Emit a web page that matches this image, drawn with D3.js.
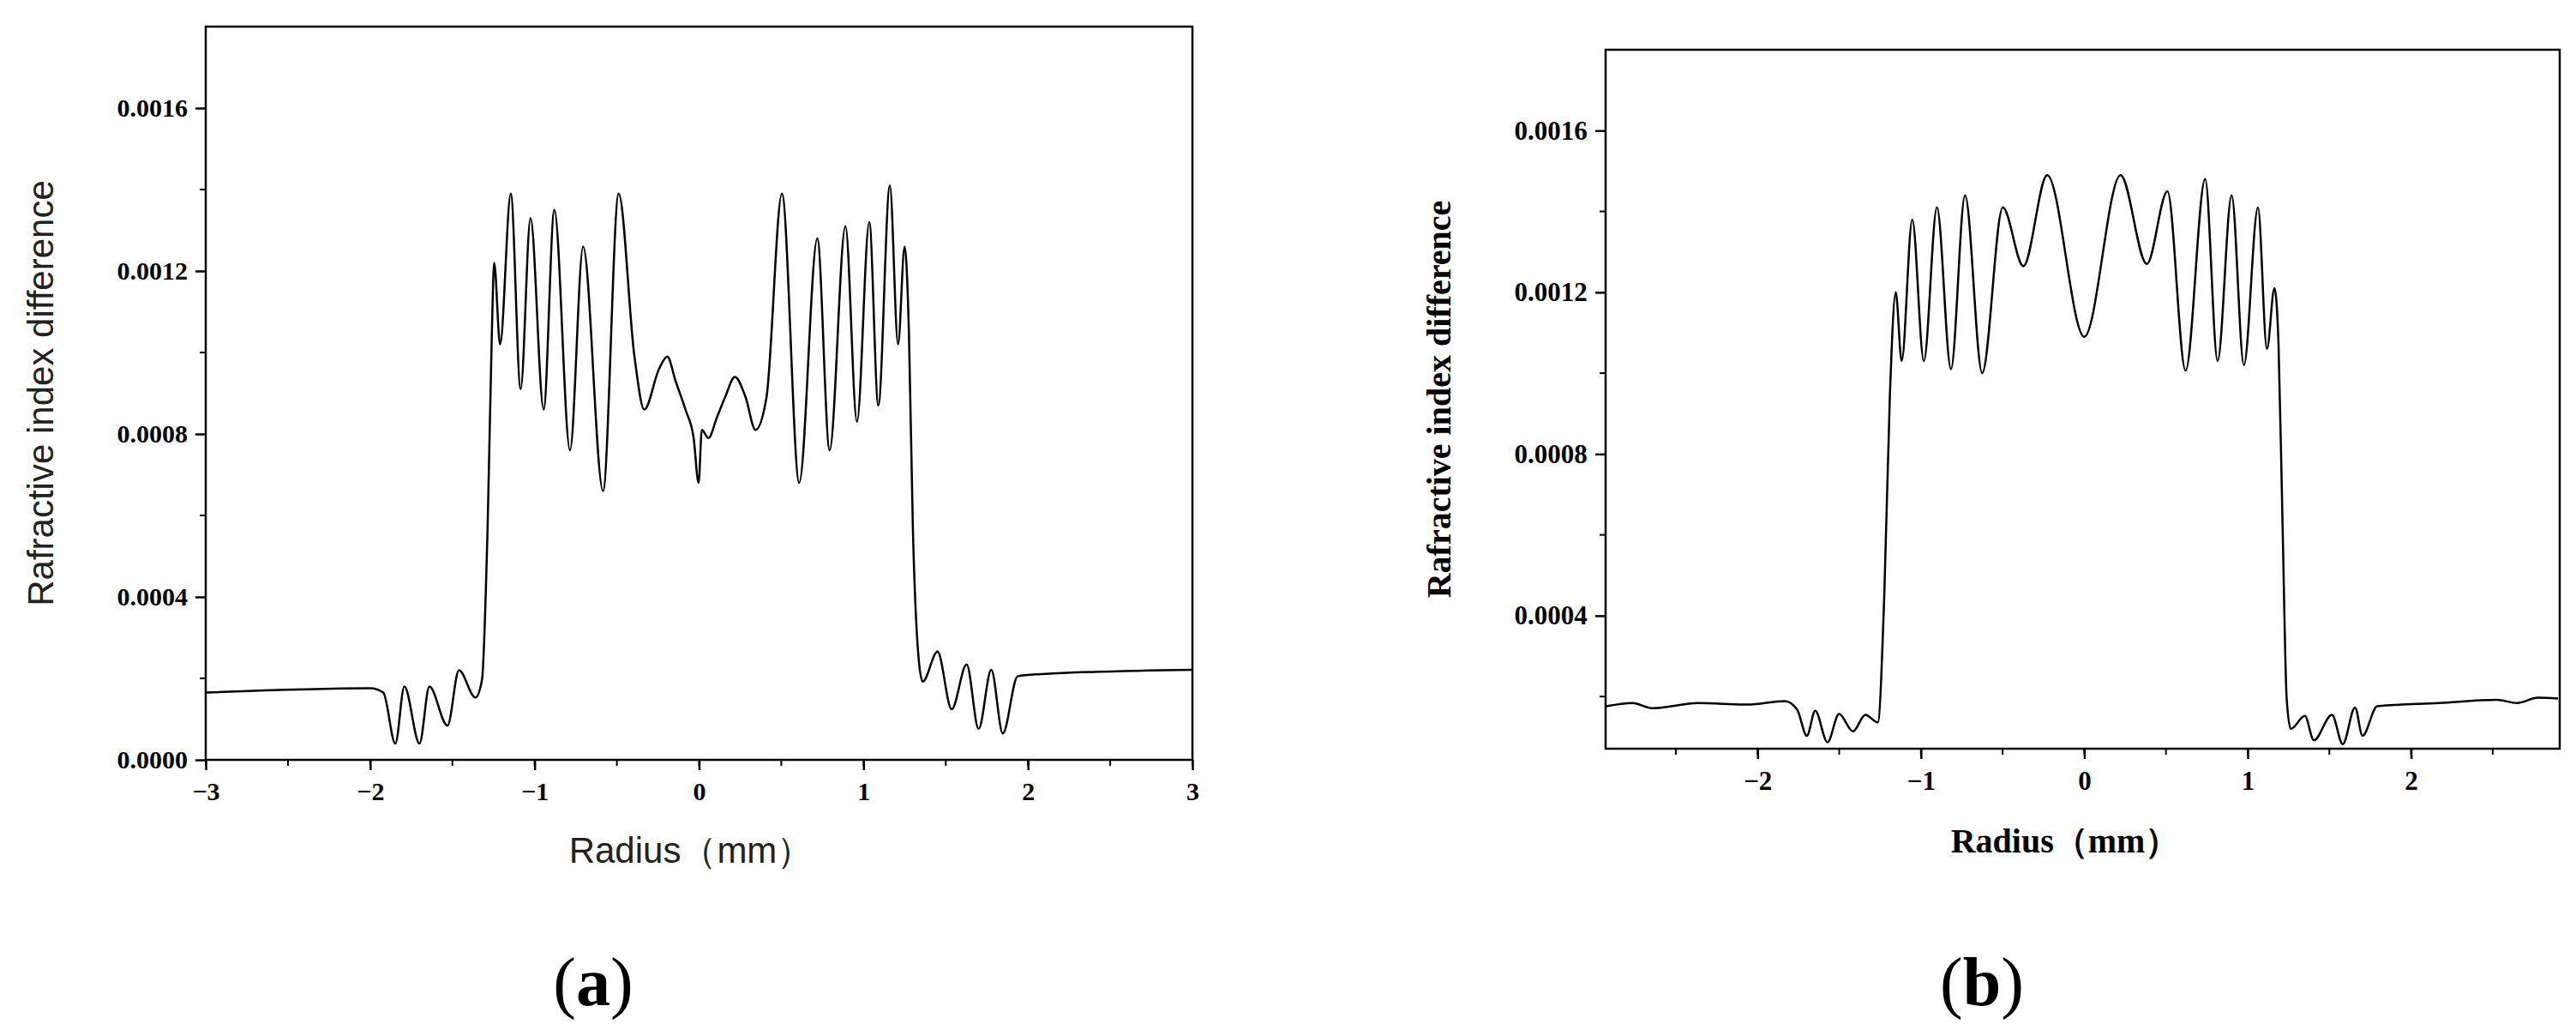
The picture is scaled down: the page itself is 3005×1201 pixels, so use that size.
<!DOCTYPE html>
<html>
<head>
<meta charset="utf-8">
<script src="https://cdn.jsdelivr.net/npm/d3@7"></script>
<style>body{margin:0;background:#fff;}</style>
</head>
<body>
<script>
// panel (a) measured profile
const radiusA = [-3,-2.0,-1.92,-1.847,-1.792,-1.70,-1.64,-1.53,-1.46,-1.36,-1.32,-1.286,-1.26,-1.246,-1.21,-1.145,-1.085,-1.025,-0.945,-0.88,-0.785,-0.705,-0.584,-0.489,-0.393,-0.333,-0.243,-0.193,-0.143,-0.083,-0.033,-0.003,0.017,0.057,0.108,0.158,0.218,0.283,0.343,0.41,0.504,0.609,0.719,0.794,0.89,0.96,1.035,1.09,1.16,1.21,1.25,1.276,1.30,1.336,1.36,1.45,1.536,1.627,1.70,1.777,1.847,1.937,2.06,3];
const deltaA = [0.000165,0.000176,0.000165,0.00004,0.00018,0.00004,0.00018,0.000084,0.00022,0.000153,0.000197,0.00057,0.00105,0.00122,0.00102,0.00139,0.00091,0.00133,0.00086,0.00135,0.00076,0.00126,0.00066,0.00139,0.00099,0.00086,0.00096,0.00099,0.00093,0.00086,0.00079,0.00068,0.00081,0.00079,0.00084,0.00089,0.00094,0.00089,0.00081,0.00089,0.00139,0.00068,0.00128,0.00076,0.00131,0.00083,0.00132,0.00087,0.00141,0.00102,0.00126,0.00105,0.00057,0.000245,0.000192,0.000266,0.000124,0.000234,0.000076,0.000221,0.000065,0.000205,0.00021,0.000221];

// panel (b) profile
const radiusB = [-2.927,-2.766,-2.64,-2.363,-2.06,-1.834,-1.758,-1.698,-1.647,-1.572,-1.501,-1.416,-1.34,-1.264,-1.224,-1.19,-1.154,-1.118,-1.053,-0.982,-0.902,-0.816,-0.73,-0.625,-0.499,-0.373,-0.227,0,0.222,0.383,0.509,0.62,0.74,0.816,0.902,0.977,1.063,1.118,1.164,1.189,1.214,1.239,1.264,1.35,1.405,1.516,1.582,1.657,1.703,1.793,2.171,2.524,2.65,2.776,2.9];
const deltaB = [0.000176,0.000184,0.000171,0.000184,0.00018,0.000189,0.000168,0.000103,0.000165,0.000087,0.000157,0.000114,0.000155,0.000136,0.000454,0.000944,0.0012,0.00103,0.00138,0.00103,0.00141,0.00101,0.00144,0.0010,0.00141,0.001265,0.00149,0.00109,0.00149,0.00127,0.00145,0.001006,0.00148,0.00103,0.00144,0.00102,0.00141,0.00106,0.00121,0.00107,0.000617,0.000193,0.00012,0.000152,0.000092,0.000155,0.000082,0.000173,0.000103,0.000176,0.000184,0.000192,0.000184,0.000197,0.000195];

const xTicksA = [-3,-2,-1,0,1,2,3];
const xTicksB = [-2,-1,0,1,2];
const yTicks = [0,0.0004,0.0008,0.0012,0.0016];

const svg = d3.select("body").append("svg")
  .attr("width", 3005).attr("height", 1201);

function panel(opt) {
  const x = d3.scaleLinear().domain(opt.xDomain).range([opt.left, opt.right]);
  const y = d3.scaleLinear().domain(opt.yDomain).range([opt.bottom, opt.top]);
  const g = svg.append("g");

  // frame
  g.append("rect").attr("x", opt.left).attr("y", opt.top)
    .attr("width", opt.right - opt.left).attr("height", opt.bottom - opt.top)
    .attr("fill", "none").attr("stroke", "#000").attr("stroke-width", 2.5);

  const minorX = d3.range(Math.ceil(opt.xDomain[0] * 2) / 2, opt.xDomain[1] + 0.001, 0.5);
  const minorY = d3.range(0.0002, opt.yDomain[1], 0.0004).filter(v => v > opt.yDomain[0]);

  const xAxis = d3.axisBottom(x).tickValues(opt.xTicks).tickFormat(d3.format("d")).tickSize(12);
  const yAxis = d3.axisLeft(y).tickValues(yTicks.filter(v => v >= opt.yDomain[0]))
    .tickFormat(d3.format(".4f")).tickSize(12);

  const gx = g.append("g").attr("transform", `translate(0,${opt.bottom})`).call(xAxis);
  g.append("g").selectAll("line").data(minorX).join("line")
    .attr("x1", d => x(d)).attr("x2", d => x(d))
    .attr("y1", opt.bottom).attr("y2", opt.bottom + 7)
    .attr("stroke", "#000").attr("stroke-width", 2);
  const gy = g.append("g").attr("transform", `translate(${opt.left},0)`).call(yAxis);
  g.append("g").selectAll("line").data(minorY).join("line")
    .attr("x1", opt.left - 7).attr("x2", opt.left)
    .attr("y1", d => y(d)).attr("y2", d => y(d))
    .attr("stroke", "#000").attr("stroke-width", 2);

  [gx, gy].forEach(a => {
    a.select(".domain").remove();
    a.selectAll(".tick line").attr("stroke-width", 2.5);
    a.selectAll("text").attr("font-family", "Liberation Serif").attr("font-weight", "bold")
      .attr("font-size", opt.tickSize).attr("fill", "#000");
  });
  gx.selectAll("text").attr("y", 26).attr("dy", "0.71em");
  gy.selectAll("text").attr("dx", "-0.2em");

  const line = d3.line().x(d => x(d[0])).y(d => y(d[1])).curve(d3.curveMonotoneX);
  g.append("path").datum(d3.zip(opt.xs, opt.ys)).attr("d", line)
    .attr("fill", "none").attr("stroke", "#000").attr("stroke-width", 2.5);

  g.append("text").attr("x", opt.xTitleX).attr("y", opt.xTitleY)
    .attr("text-anchor", "middle").attr("font-family", opt.titleFont)
    .attr("font-weight", opt.titleWeight).attr("font-size", opt.titleSize)
    .attr("fill", opt.titleColor).text(opt.xTitle);
  g.append("text").attr("transform", `translate(${opt.yTitleX},${(opt.top + opt.bottom) / 2}) rotate(-90)`)
    .attr("text-anchor", "middle").attr("font-family", opt.titleFont)
    .attr("font-weight", opt.titleWeight).attr("font-size", opt.titleSize)
    .attr("fill", opt.titleColor).text(opt.yTitle);

  g.append("text").attr("x", opt.labelX).attr("y", 1172).attr("text-anchor", "middle")
    .attr("font-family", "Liberation Serif").attr("font-size", 80).attr("fill", "#000")
    .html(`(<tspan font-weight="bold">${opt.label}</tspan>)`);
}

panel({
  left: 240, right: 1391, top: 31, bottom: 886,
  xDomain: [-3, 3], yDomain: [0, 0.0018], xTicks: xTicksA,
  xs: radiusA, ys: deltaA, tickSize: 30,
  xTitle: "Radius（mm）", yTitle: "Rafractive index difference",
  xTitleX: 806, xTitleY: 1006, yTitleX: 62, titleFont: "Liberation Sans", titleWeight: "normal",
  titleSize: 42, titleColor: "#222", labelX: 692, label: "a"
});

panel({
  left: 1873, right: 2986, top: 58, bottom: 873,
  xDomain: [-2.93, 2.91], yDomain: [0.000071, 0.0018], xTicks: xTicksB,
  xs: radiusB, ys: deltaB, tickSize: 31,
  xTitle: "Radius（mm）", yTitle: "Rafractive index difference",
  xTitleX: 2409, xTitleY: 994, yTitleX: 1692, titleFont: "Liberation Serif", titleWeight: "bold",
  titleSize: 40, titleColor: "#000", labelX: 2312, label: "b"
});
</script>
</body>
</html>
